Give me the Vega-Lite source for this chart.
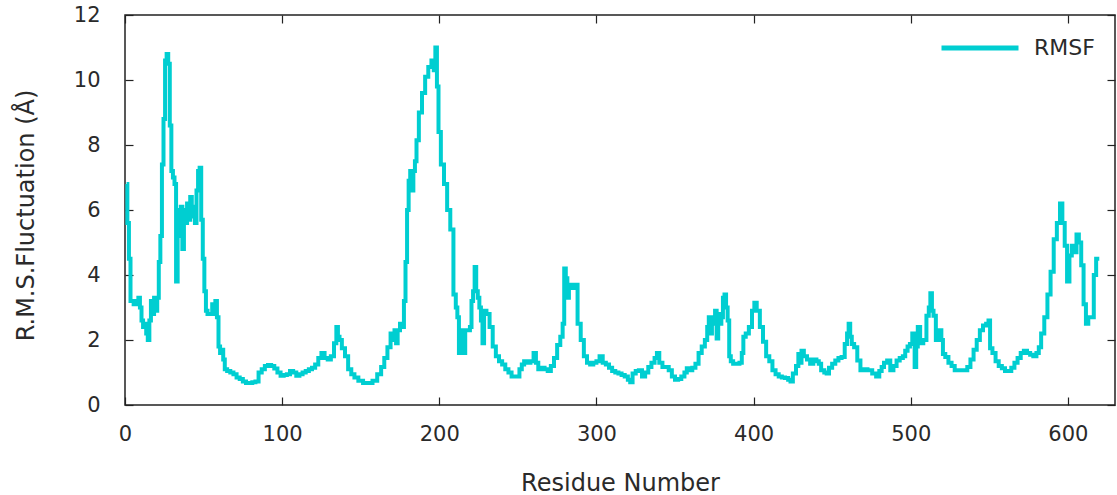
{
"$schema": "https://vega.github.io/schema/vega-lite/v6.json",
"width": 990, "height": 390,
"autosize": {"type": "none"},
"padding": {"left": 125, "top": 15, "right": 2, "bottom": 90},
"background": "white",
"config": {"view": {"stroke": "#222", "strokeWidth": 1.5}, "font": "DejaVu Sans"},
"data": {"values": [
{"residue":1,"rmsf":6.8},{"residue":2,"rmsf":5.6},{"residue":3,"rmsf":4.5},{"residue":4,"rmsf":3.2},{"residue":5,"rmsf":3.2},{"residue":6,"rmsf":3.1},{"residue":7,"rmsf":3.2},{"residue":8,"rmsf":3.1},{"residue":9,"rmsf":3.3},{"residue":10,"rmsf":3.0},{"residue":11,"rmsf":2.6},{"residue":12,"rmsf":2.4},{"residue":13,"rmsf":2.5},{"residue":14,"rmsf":2.2},{"residue":15,"rmsf":2.0},{"residue":16,"rmsf":2.6},{"residue":17,"rmsf":3.2},{"residue":18,"rmsf":2.8},{"residue":19,"rmsf":3.3},{"residue":20,"rmsf":2.9},{"residue":21,"rmsf":3.3},{"residue":22,"rmsf":4.4},{"residue":23,"rmsf":5.2},{"residue":24,"rmsf":7.4},{"residue":25,"rmsf":8.8},{"residue":26,"rmsf":10.6},{"residue":27,"rmsf":10.8},{"residue":28,"rmsf":10.5},{"residue":29,"rmsf":8.6},{"residue":30,"rmsf":7.2},{"residue":31,"rmsf":7.0},{"residue":32,"rmsf":6.8},{"residue":33,"rmsf":3.8},{"residue":34,"rmsf":6.0},{"residue":35,"rmsf":5.2},{"residue":36,"rmsf":6.1},{"residue":37,"rmsf":4.8},{"residue":38,"rmsf":6.0},{"residue":39,"rmsf":5.6},{"residue":40,"rmsf":6.2},{"residue":41,"rmsf":5.7},{"residue":42,"rmsf":6.4},{"residue":43,"rmsf":5.8},{"residue":44,"rmsf":6.1},{"residue":45,"rmsf":5.6},{"residue":46,"rmsf":6.6},{"residue":47,"rmsf":7.2},{"residue":48,"rmsf":7.3},{"residue":49,"rmsf":5.7},{"residue":50,"rmsf":4.5},{"residue":51,"rmsf":3.5},{"residue":52,"rmsf":2.9},{"residue":53,"rmsf":2.8},{"residue":54,"rmsf":2.8},{"residue":55,"rmsf":2.8},{"residue":56,"rmsf":3.1},{"residue":57,"rmsf":2.8},{"residue":58,"rmsf":3.2},{"residue":59,"rmsf":2.7},{"residue":60,"rmsf":1.8},{"residue":61,"rmsf":1.6},{"residue":62,"rmsf":1.7},{"residue":63,"rmsf":1.4},{"residue":64,"rmsf":1.1},{"residue":66,"rmsf":1.05},{"residue":68,"rmsf":1.0},{"residue":70,"rmsf":0.95},{"residue":72,"rmsf":0.85},{"residue":74,"rmsf":0.8},{"residue":76,"rmsf":0.72},{"residue":78,"rmsf":0.68},{"residue":80,"rmsf":0.68},{"residue":82,"rmsf":0.7},{"residue":84,"rmsf":0.72},{"residue":86,"rmsf":1.0},{"residue":88,"rmsf":1.1},{"residue":90,"rmsf":1.2},{"residue":92,"rmsf":1.23},{"residue":94,"rmsf":1.2},{"residue":96,"rmsf":1.12},{"residue":98,"rmsf":1.0},{"residue":100,"rmsf":0.9},{"residue":102,"rmsf":0.92},{"residue":104,"rmsf":0.95},{"residue":106,"rmsf":1.05},{"residue":108,"rmsf":1.0},{"residue":110,"rmsf":0.9},
{"residue":112,"rmsf":0.95},{"residue":114,"rmsf":1.0},{"residue":116,"rmsf":1.05},{"residue":118,"rmsf":1.1},{"residue":120,"rmsf":1.15},{"residue":122,"rmsf":1.25},{"residue":124,"rmsf":1.45},{"residue":126,"rmsf":1.6},{"residue":128,"rmsf":1.45},{"residue":130,"rmsf":1.4},{"residue":132,"rmsf":1.5},{"residue":134,"rmsf":1.9},{"residue":135,"rmsf":2.4},{"residue":136,"rmsf":2.1},{"residue":137,"rmsf":2.0},{"residue":139,"rmsf":1.75},{"residue":141,"rmsf":1.5},{"residue":143,"rmsf":1.1},{"residue":145,"rmsf":0.95},{"residue":147,"rmsf":0.85},{"residue":150,"rmsf":0.75},{"residue":153,"rmsf":0.68},{"residue":156,"rmsf":0.68},{"residue":159,"rmsf":0.75},{"residue":162,"rmsf":0.95},{"residue":164,"rmsf":1.17},{"residue":166,"rmsf":1.45},{"residue":168,"rmsf":1.78},{"residue":170,"rmsf":2.2},{"residue":171,"rmsf":2.0},{"residue":172,"rmsf":2.3},{"residue":173,"rmsf":1.9},{"residue":174,"rmsf":2.3},{"residue":176,"rmsf":2.5},{"residue":177,"rmsf":2.4},{"residue":178,"rmsf":3.2},{"residue":179,"rmsf":4.4},{"residue":180,"rmsf":6.0},{"residue":181,"rmsf":6.9},{"residue":182,"rmsf":7.2},{"residue":183,"rmsf":6.6},{"residue":184,"rmsf":7.2},{"residue":185,"rmsf":7.5},{"residue":186,"rmsf":8.15},{"residue":188,"rmsf":9.0},{"residue":190,"rmsf":9.6},{"residue":192,"rmsf":10.1},{"residue":194,"rmsf":10.4},{"residue":196,"rmsf":10.6},{"residue":197,"rmsf":10.3},{"residue":198,"rmsf":11.0},{"residue":199,"rmsf":9.8},{"residue":200,"rmsf":8.4},{"residue":202,"rmsf":7.4},{"residue":204,"rmsf":6.8},{"residue":206,"rmsf":6.0},{"residue":208,"rmsf":5.4},{"residue":210,"rmsf":3.4},{"residue":211,"rmsf":3.0},{"residue":212,"rmsf":2.7},{"residue":213,"rmsf":1.6},{"residue":214,"rmsf":2.3},{"residue":215,"rmsf":2.0},{"residue":216,"rmsf":1.6},{"residue":217,"rmsf":2.3},{"residue":219,"rmsf":2.3},{"residue":220,"rmsf":2.4},{"residue":221,"rmsf":3.2},{"residue":222,"rmsf":3.5},{"residue":223,"rmsf":4.25},{"residue":224,"rmsf":3.5},{"residue":225,"rmsf":3.3},{"residue":226,"rmsf":3.0},{"residue":227,"rmsf":2.6},{"residue":228,"rmsf":1.9},{"residue":229,"rmsf":2.9},{"residue":231,"rmsf":2.8},{"residue":233,"rmsf":2.4},{"residue":235,"rmsf":1.8},{"residue":237,"rmsf":1.5},{"residue":239,"rmsf":1.35},{"residue":241,"rmsf":1.25},{"residue":243,"rmsf":1.1},{"residue":245,"rmsf":1.0},{"residue":247,"rmsf":0.88},{"residue":250,"rmsf":0.88},{"residue":252,"rmsf":1.1},{"residue":253,"rmsf":1.25},{"residue":255,"rmsf":1.35},{"residue":257,"rmsf":1.3},{"residue":259,"rmsf":1.35},{"residue":261,"rmsf":1.6},{"residue":262,"rmsf":1.3},{"residue":264,"rmsf":1.1},{"residue":266,"rmsf":1.15},{"residue":268,"rmsf":1.1},{"residue":270,"rmsf":1.05},{"residue":272,"rmsf":1.2},{"residue":274,"rmsf":1.45},{"residue":276,"rmsf":1.85},{"residue":278,"rmsf":2.1},{"residue":279,"rmsf":2.5},{"residue":280,"rmsf":4.2},{"residue":281,"rmsf":3.9},{"residue":282,"rmsf":3.3},{"residue":283,"rmsf":3.7},{"residue":285,"rmsf":3.6},{"residue":287,"rmsf":3.7},{"residue":289,"rmsf":2.5},{"residue":291,"rmsf":2.0},{"residue":293,"rmsf":1.5},{"residue":295,"rmsf":1.3},{"residue":297,"rmsf":1.25},{"residue":299,"rmsf":1.3},{"residue":301,"rmsf":1.35},{"residue":303,"rmsf":1.5},{"residue":305,"rmsf":1.3},{"residue":307,"rmsf":1.25},{"residue":309,"rmsf":1.15},{"residue":311,"rmsf":1.05},{"residue":313,"rmsf":1.0},{"residue":315,"rmsf":0.97},{"residue":317,"rmsf":0.92},{"residue":319,"rmsf":0.88},{"residue":321,"rmsf":0.78},{"residue":322,"rmsf":0.7},{"residue":324,"rmsf":0.97},{"residue":326,"rmsf":1.05},{"residue":328,"rmsf":1.07},{"residue":330,"rmsf":0.88},{"residue":332,"rmsf":1.0},{"residue":334,"rmsf":1.17},{"residue":336,"rmsf":1.3},{"residue":338,"rmsf":1.45},{"residue":339,"rmsf":1.6},{"residue":341,"rmsf":1.3},{"residue":343,"rmsf":1.17},{"residue":345,"rmsf":1.17},{"residue":347,"rmsf":1.07},{"residue":349,"rmsf":0.88},{"residue":351,"rmsf":0.78},{"residue":353,"rmsf":0.8},{"residue":355,"rmsf":0.88},{"residue":357,"rmsf":1.0},{"residue":358,"rmsf":1.13},{"residue":360,"rmsf":1.07},{"residue":362,"rmsf":1.15},{"residue":364,"rmsf":1.27},{"residue":366,"rmsf":1.6},{"residue":368,"rmsf":1.8},{"residue":370,"rmsf":2.0},{"residue":371,"rmsf":2.4},{"residue":372,"rmsf":2.7},{"residue":373,"rmsf":2.2},{"residue":374,"rmsf":2.5},{"residue":375,"rmsf":2.7},{"residue":376,"rmsf":2.9},{"residue":377,"rmsf":2.05},{"residue":378,"rmsf":2.8},{"residue":379,"rmsf":2.5},{"residue":380,"rmsf":2.7},{"residue":381,"rmsf":3.3},{"residue":382,"rmsf":3.4},{"residue":383,"rmsf":3.0},{"residue":384,"rmsf":2.6},{"residue":385,"rmsf":1.5},{"residue":386,"rmsf":1.35},{"residue":388,"rmsf":1.27},{"residue":390,"rmsf":1.27},{"residue":392,"rmsf":1.3},{"residue":393,"rmsf":1.6},{"residue":394,"rmsf":2.1},{"residue":396,"rmsf":2.2},{"residue":398,"rmsf":2.4},{"residue":400,"rmsf":2.9},{"residue":401,"rmsf":3.15},{"residue":403,"rmsf":2.9},{"residue":405,"rmsf":2.4},{"residue":407,"rmsf":1.95},{"residue":409,"rmsf":1.5},{"residue":411,"rmsf":1.35},{"residue":413,"rmsf":1.07},{"residue":415,"rmsf":0.95},{"residue":417,"rmsf":0.88},{"residue":419,"rmsf":0.85},{"residue":421,"rmsf":0.83},{"residue":423,"rmsf":0.78},{"residue":424,"rmsf":0.72},{"residue":426,"rmsf":0.97},{"residue":428,"rmsf":1.2},{"residue":429,"rmsf":1.57},{"residue":430,"rmsf":1.3},{"residue":431,"rmsf":1.67},{"residue":433,"rmsf":1.5},{"residue":435,"rmsf":1.4},{"residue":437,"rmsf":1.27},{"residue":439,"rmsf":1.4},{"residue":441,"rmsf":1.35},{"residue":442,"rmsf":1.27},{"residue":444,"rmsf":1.07},{"residue":446,"rmsf":1.0},{"residue":447,"rmsf":0.97},{"residue":449,"rmsf":1.15},{"residue":451,"rmsf":1.27},{"residue":453,"rmsf":1.37},{"residue":455,"rmsf":1.45},{"residue":457,"rmsf":1.48},{"residue":459,"rmsf":1.88},{"residue":460,"rmsf":2.2},{"residue":461,"rmsf":2.5},{"residue":462,"rmsf":2.1},{"residue":463,"rmsf":1.88},{"residue":465,"rmsf":1.78},{"residue":467,"rmsf":1.37},{"residue":469,"rmsf":1.07},{"residue":471,"rmsf":1.1},{"residue":474,"rmsf":1.07},{"residue":477,"rmsf":0.97},{"residue":479,"rmsf":0.88},{"residue":481,"rmsf":1.05},{"residue":482,"rmsf":1.17},{"residue":484,"rmsf":1.3},{"residue":486,"rmsf":1.37},{"residue":488,"rmsf":1.07},{"residue":490,"rmsf":1.2},{"residue":492,"rmsf":1.37},{"residue":494,"rmsf":1.45},{"residue":496,"rmsf":1.5},{"residue":497,"rmsf":1.67},{"residue":499,"rmsf":1.8},{"residue":500,"rmsf":1.88},{"residue":502,"rmsf":2.2},{"residue":503,"rmsf":1.17},{"residue":504,"rmsf":1.8},{"residue":505,"rmsf":2.4},{"residue":507,"rmsf":1.9},{"residue":509,"rmsf":2.0},{"residue":511,"rmsf":2.75},{"residue":512,"rmsf":3.0},{"residue":513,"rmsf":3.44},{"residue":514,"rmsf":2.9},{"residue":515,"rmsf":2.75},{"residue":517,"rmsf":2.0},{"residue":519,"rmsf":2.3},{"residue":520,"rmsf":2.0},{"residue":521,"rmsf":1.57},{"residue":523,"rmsf":1.48},{"residue":525,"rmsf":1.3},{"residue":527,"rmsf":1.2},{"residue":529,"rmsf":1.07},{"residue":531,"rmsf":1.07},{"residue":533,"rmsf":1.07},{"residue":535,"rmsf":1.07},{"residue":537,"rmsf":1.17},{"residue":539,"rmsf":1.4},{"residue":541,"rmsf":1.7},{"residue":543,"rmsf":2.0},{"residue":545,"rmsf":2.3},{"residue":547,"rmsf":2.45},{"residue":549,"rmsf":2.5},{"residue":550,"rmsf":2.6},{"residue":551,"rmsf":1.75},{"residue":553,"rmsf":1.6},{"residue":555,"rmsf":1.35},{"residue":557,"rmsf":1.2},{"residue":559,"rmsf":1.13},{"residue":561,"rmsf":1.05},{"residue":563,"rmsf":1.05},{"residue":565,"rmsf":1.15},{"residue":567,"rmsf":1.3},{"residue":569,"rmsf":1.45},{"residue":571,"rmsf":1.6},{"residue":573,"rmsf":1.67},{"residue":575,"rmsf":1.6},{"residue":577,"rmsf":1.55},{"residue":579,"rmsf":1.5},{"residue":581,"rmsf":1.6},{"residue":582,"rmsf":1.78},{"residue":584,"rmsf":2.2},{"residue":586,"rmsf":2.7},{"residue":588,"rmsf":3.4},{"residue":590,"rmsf":4.1},{"residue":592,"rmsf":5.1},{"residue":594,"rmsf":5.6},{"residue":596,"rmsf":6.2},{"residue":597,"rmsf":5.6},{"residue":599,"rmsf":4.9},{"residue":600,"rmsf":3.8},{"residue":602,"rmsf":4.6},{"residue":603,"rmsf":4.9},{"residue":605,"rmsf":4.7},{"residue":606,"rmsf":5.25},{"residue":608,"rmsf":5.0},{"residue":609,"rmsf":4.3},{"residue":611,"rmsf":3.1},{"residue":612,"rmsf":2.5},{"residue":614,"rmsf":2.7},{"residue":616,"rmsf":2.7},{"residue":617,"rmsf":4.0},{"residue":619,"rmsf":4.5},{"residue":620,"rmsf":4.5}
]},
"resolve": {"axis": {"x": "independent", "y": "independent"}},
"layer": [
{
"mark": {"type": "line", "strokeWidth": 4, "interpolate": "step", "strokeJoin": "miter"},
"encoding": {
"x": {"field": "residue", "type": "quantitative", "scale": {"domain": [0, 630], "nice": false, "zero": false},
 "axis": {"orient": "bottom", "values": [0,100,200,300,400,500,600], "format": "d", "tickSize": -8, "tickColor": "#222", "tickWidth": 1.2, "domain": false, "grid": false,
 "labelFont": "DejaVu Sans", "labelFontSize": 21, "labelColor": "#2a2a2a", "labelPadding": 26, "labelFlush": false,
 "title": "Residue Number", "titleFont": "DejaVu Sans", "titleFontSize": 24, "titleFontWeight": "normal", "titleColor": "#2a2a2a", "titleY": 85, "titleBaseline": "alphabetic"}},
"y": {"field": "rmsf", "type": "quantitative", "scale": {"domain": [0, 12], "nice": false},
 "axis": {"orient": "left", "values": [0,2,4,6,8,10,12], "tickSize": -8, "tickColor": "#222", "tickWidth": 1.2, "domain": false, "grid": false,
 "labelFont": "DejaVu Sans", "labelFontSize": 21, "labelColor": "#2a2a2a", "labelPadding": 33, "labelFlush": false,
 "title": "R.M.S.Fluctuation (Å)", "titleFont": "DejaVu Sans", "titleFontSize": 24, "titleFontWeight": "normal", "titleColor": "#2a2a2a", "titleX": -99, "titleY": 200, "titleAngle": -90, "titleAlign": "center", "titleBaseline": "middle"}},
"color": {"datum": "RMSF", "scale": {"range": ["#00CED1"]},
 "legend": {"orient": "none", "legendX": 814, "legendY": -8, "title": null, "symbolType": "stroke", "symbolSize": 5929, "symbolStrokeWidth": 5, "symbolStrokeColor": "#00CED1", "labelFont": "DejaVu Sans", "labelFontSize": 22, "labelColor": "#2a2a2a", "labelOffset": 13, "padding": 0}}
}
},
{
"mark": {"type": "line", "opacity": 0},
"encoding": {
"x": {"field": "residue", "type": "quantitative", "axis": {"orient": "top", "values": [0,100,200,300,400,500,600], "tickSize": -8, "tickColor": "#222", "tickWidth": 1.2, "domain": false, "grid": false, "labels": false, "title": null}},
"y": {"field": "rmsf", "type": "quantitative", "axis": {"orient": "right", "values": [0,2,4,6,8,10,12], "tickSize": -8, "tickColor": "#222", "tickWidth": 1.2, "domain": false, "grid": false, "labels": false, "title": null}}
}
}
]
}
